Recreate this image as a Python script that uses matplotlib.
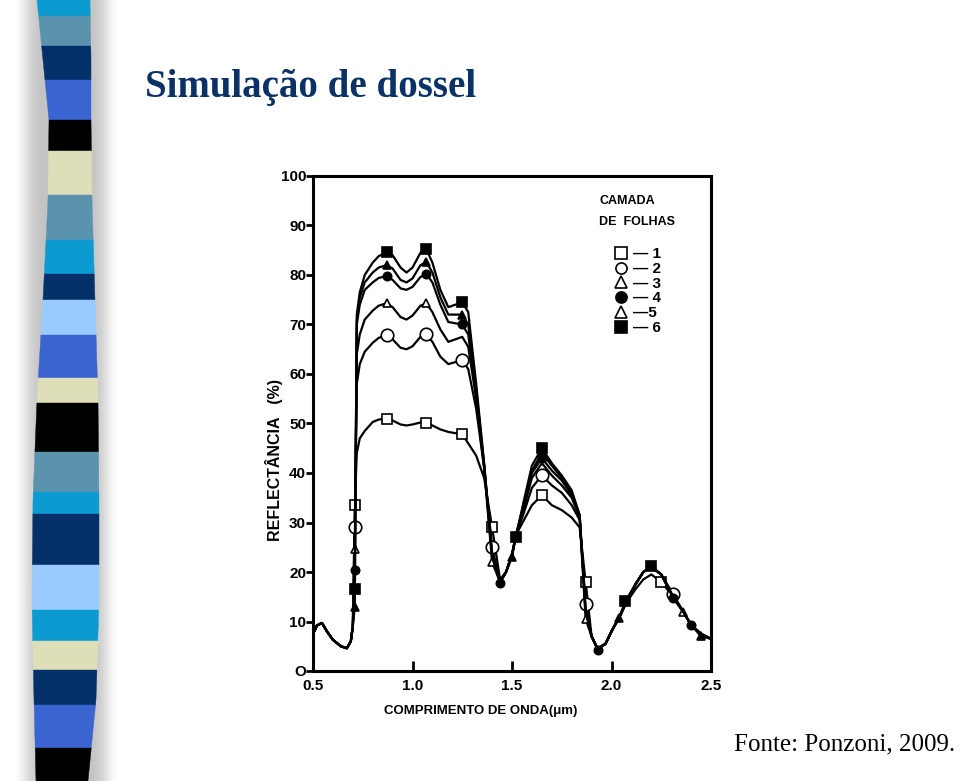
import numpy as np
import matplotlib.pyplot as plt
from matplotlib.lines import Line2D
from matplotlib.patches import Polygon

# comprimento de onda (um)
wl = [0.50, 0.52, 0.545, 0.57, 0.60, 0.64, 0.67, 0.69, 0.70, 0.71,
      0.72, 0.735, 0.76, 0.80, 0.83, 0.87, 0.90, 0.94, 0.97, 1.00,
      1.04, 1.07, 1.10, 1.14, 1.18, 1.25, 1.28, 1.32, 1.36, 1.40,
      1.44, 1.47, 1.50, 1.52, 1.56, 1.60, 1.65, 1.70, 1.75, 1.80,
      1.84, 1.87, 1.90, 1.93, 1.97, 2.00, 2.04, 2.07, 2.12, 2.16,
      2.20, 2.25, 2.31, 2.36, 2.40, 2.45, 2.50]

# reflectancia (%) por numero de camadas de folhas
refl_1 = [7.5, 9.2, 9.7, 8.0, 6.3, 5.0, 4.6, 6.0, 9.0, 33.5,
          44.0, 47.0, 48.5, 50.3, 50.8, 51.0, 50.6, 49.8, 49.6, 49.8,
          50.2, 50.2, 49.6, 48.8, 48.3, 47.8, 46.0, 43.5, 39.0, 29.0,
          18.5, 20.0, 23.5, 27.5, 30.5, 33.5, 35.5, 33.5, 32.5, 31.0,
          29.0, 18.0, 7.0, 4.5, 5.5, 8.0, 11.0, 13.5, 16.5, 18.5,
          19.5, 18.0, 15.0, 12.0, 9.3, 7.5, 6.5]
refl_2 = [7.5, 9.2, 9.7, 8.0, 6.3, 5.0, 4.6, 6.0, 9.0, 29.0,
          58.0, 62.0, 64.5, 66.3, 67.3, 67.8, 67.0, 65.3, 65.0, 65.6,
          67.5, 68.0, 66.5, 63.5, 62.0, 62.8, 61.0, 53.0, 41.0, 25.0,
          18.0, 20.0, 23.5, 27.5, 32.0, 37.0, 39.5, 37.5, 36.0, 33.5,
          30.5, 13.5, 7.0, 4.5, 5.5, 8.0, 11.0, 13.5, 17.5, 20.0,
          21.0, 19.5, 15.5, 12.0, 9.3, 7.5, 6.5]
refl_3 = [7.5, 9.2, 9.7, 8.0, 6.3, 5.0, 4.6, 6.0, 9.0, 24.6,
          64.0, 68.0, 71.0, 72.8, 73.8, 74.3, 73.5, 71.5, 71.0, 71.8,
          73.8, 74.3, 72.5, 69.0, 66.5, 67.5, 65.5, 55.0, 41.0, 22.0,
          18.0, 20.0, 23.5, 27.5, 33.0, 39.0, 42.0, 39.5, 37.5, 35.0,
          31.0, 10.5, 7.0, 4.5, 5.5, 8.0, 11.0, 13.5, 17.5, 20.0,
          21.0, 19.5, 15.0, 12.0, 9.3, 7.5, 6.5]
refl_4 = [7.5, 9.2, 9.7, 8.0, 6.3, 5.0, 4.6, 6.0, 9.0, 20.4,
          70.0, 74.0, 77.0, 78.5, 79.4, 79.8, 79.0, 77.3, 77.0, 77.6,
          79.6, 80.2, 78.5, 74.0, 70.5, 70.0, 68.0, 56.0, 41.5, 23.0,
          17.8, 20.0, 23.5, 27.5, 33.5, 40.0, 43.0, 40.5, 38.5, 35.5,
          31.0, 12.0, 7.0, 4.3, 5.5, 8.0, 11.0, 13.5, 17.5, 20.0,
          21.0, 19.5, 14.7, 12.0, 9.3, 7.5, 6.5]
refl_5 = [7.5, 9.2, 9.7, 8.0, 6.3, 5.0, 4.6, 6.0, 9.0, 12.9,
          71.0, 75.5, 78.5, 80.5, 81.5, 82.0, 81.3, 79.0, 78.5, 79.3,
          82.0, 82.6, 80.5, 75.5, 72.0, 72.0, 70.0, 57.0, 41.5, 23.5,
          18.0, 20.0, 23.0, 27.5, 34.0, 40.5, 44.0, 41.5, 39.0, 36.0,
          31.5, 12.0, 7.0, 4.5, 5.5, 8.0, 10.7, 13.5, 17.5, 20.0,
          21.0, 19.5, 15.0, 12.0, 9.3, 7.0, 6.5]
refl_6 = [7.5, 9.2, 9.7, 8.0, 6.3, 5.0, 4.6, 6.0, 9.0, 16.6,
          72.0, 76.5, 80.0, 82.5, 83.8, 84.6, 84.0, 81.5, 80.5, 81.5,
          84.5, 85.2, 82.5, 77.0, 73.5, 74.5, 72.5, 58.0, 42.0, 24.0,
          18.0, 20.0, 23.5, 27.0, 34.5, 41.5, 45.0, 42.0, 39.5, 36.5,
          31.5, 12.5, 7.0, 4.5, 5.5, 8.0, 11.0, 14.1, 17.5, 20.0,
          21.2, 19.5, 15.0, 12.0, 9.3, 7.5, 6.5]

# comprimentos de onda onde aparecem os simbolos
marks_1 = [0.71, 0.87, 1.07, 1.25, 1.40, 1.65, 1.87, 2.25]
marks_2 = [0.71, 0.87, 1.07, 1.25, 1.40, 1.65, 1.87, 2.31]
marks_3 = [0.71, 0.87, 1.07, 1.40, 1.87, 2.36]
marks_4 = [0.71, 0.87, 1.07, 1.25, 1.44, 1.65, 1.93, 2.31, 2.40]
marks_5 = [0.71, 0.87, 1.07, 1.25, 1.50, 1.65, 2.04, 2.45]
marks_6 = [0.71, 0.87, 1.07, 1.25, 1.52, 1.65, 2.07, 2.20]

legend_labels = ['— 1', '— 2', '— 3', '— 4', '—5', '— 6']
y_ticks = [0, 10, 20, 30, 40, 50, 60, 70, 80, 90, 100]
y_ticklabels = ['O', '10', '20', '30', '40', '50', '60', '70', '80', '90', '100']
x_ticks = [0.5, 1.0, 1.5, 2.0, 2.5]
x_ticklabels = ['0.5', '1.0', '1.5', '2.0', '2.5']

# faixa decorativa da esquerda
band_y = [0, 16, 46, 80, 120, 151, 195, 240, 274, 300, 335, 378, 403,
          452, 492, 514, 565, 610, 641, 670, 705, 748, 781]
cer, steel, navy, royal = '#0B9BD0', '#5B93AF', '#033069', '#3A64CF'
beige, light, black = '#DEDFB8', '#9ACBFE', '#000000'
band_colors = [cer, steel, navy, royal, black, beige, steel, cer, navy,
               light, royal, beige, black, steel, cer, navy, light, cer,
               beige, navy, royal, black]
edge_y = [0, 60, 120, 200, 300, 400, 500, 600, 700, 781]
edge_left = [37, 43, 49, 48, 43, 37, 33, 32, 34, 36]
edge_right = [90, 91, 91, 92, 95, 98, 99, 99, 96, 88]

fig = plt.figure(figsize=(9.6, 7.81), dpi=100)

bg = fig.add_axes([0, 0, 1, 1])
bg.set_xlim(0, 960)
bg.set_ylim(781, 0)
bg.axis('off')

# sombra cinza em volta da faixa
xs = np.arange(140)
shade = 1 - 0.24 * np.exp(-((xs - 66) / 42.0) ** 6)
bg.imshow(shade[None, :], extent=[0, 140, 781, 0], cmap='gray',
          vmin=0, vmax=1, aspect='auto', zorder=0)

for y0, y1, c in zip(band_y[:-1], band_y[1:], band_colors):
    yy = np.linspace(y0, y1, 6)
    xl = np.interp(yy, edge_y, edge_left)
    xr = np.interp(yy, edge_y, edge_right)
    pts = list(zip(xl, yy)) + list(zip(xr[::-1], yy[::-1]))
    bg.add_patch(Polygon(pts, closed=True, facecolor=c, edgecolor=c,
                         lw=0.3, zorder=1))

fig.text(145 / 960, 1 - 97 / 781, 'Simulação de dossel',
         family='Liberation Serif', weight='bold', fontsize=28,
         color='#0B3266', va='baseline', ha='left')
fig.text(955 / 960, 1 - 750 / 781, 'Fonte: Ponzoni, 2009.',
         family='Liberation Serif', fontsize=18, color='black',
         va='baseline', ha='right')

# grafico
ax = fig.add_axes([313 / 960, 1 - 671 / 781, 398 / 960, 495 / 781])
ax.set_xlim(0.5, 2.5)
ax.set_ylim(0, 100)

series = [
    (refl_1, marks_1, 's', 'white', 7),
    (refl_2, marks_2, 'o', 'white', 9),
    (refl_3, marks_3, '^', 'white', 6),
    (refl_4, marks_4, 'o', 'black', 6),
    (refl_5, marks_5, '^', 'black', 6),
    (refl_6, marks_6, 's', 'black', 6.5),
]
for refl, marks, mk, fc, ms in series:
    idx = [wl.index(m) for m in marks]
    ax.plot(wl, refl, color='black', lw=1.6, marker=mk, markevery=idx,
            ms=ms, mfc=fc, mec='black', mew=1.2)

for side in ['left', 'bottom', 'top', 'right']:
    ax.spines[side].set_linewidth(2.2)

font_tick = {'family': 'Liberation Sans', 'weight': 'bold', 'size': 11}
ax.set_yticks(y_ticks)
ax.set_yticklabels(y_ticklabels, fontdict=font_tick)
ax.set_xticks(x_ticks)
ax.set_xticklabels(x_ticklabels, fontdict=font_tick)
ax.tick_params(axis='y', direction='out', length=5, width=2, pad=0)
ax.tick_params(axis='x', direction='in', length=7, width=2, pad=6)

ax.set_ylabel('REFLECTÂNCIA   (%)', family='Liberation Sans',
              weight='bold', fontsize=11.5)
ax.yaxis.set_label_coords(-0.075, 0.426)
ax.set_xlabel('COMPRIMENTO DE ONDA(μm)', family='Liberation Sans',
              weight='bold', fontsize=9.5)
ax.xaxis.set_label_coords(0.422, -0.069)

leg_markers = [('s', 'white'), ('o', 'white'), ('^', 'white'),
               ('o', 'black'), ('^', 'white'), ('s', 'black')]
handles = [Line2D([], [], ls='none', marker=m, mfc=f, mec='black',
                  mew=1.2, ms=8) for m, f in leg_markers]
leg = ax.legend(handles, legend_labels, loc='upper right',
                bbox_to_anchor=(0.945, 0.99), frameon=False,
                title='CAMADA\nDE  FOLHAS', handletextpad=0.3,
                handlelength=1.0, labelspacing=0.05,
                prop={'family': 'Liberation Sans', 'weight': 'bold',
                      'size': 11})
leg.get_title().set_fontproperties({'family': 'Liberation Sans',
                                    'weight': 'bold', 'size': 9})
leg.get_title().set_linespacing(2.0)
leg._legend_box.sep = 14

fig.savefig('out.png', dpi=100)
